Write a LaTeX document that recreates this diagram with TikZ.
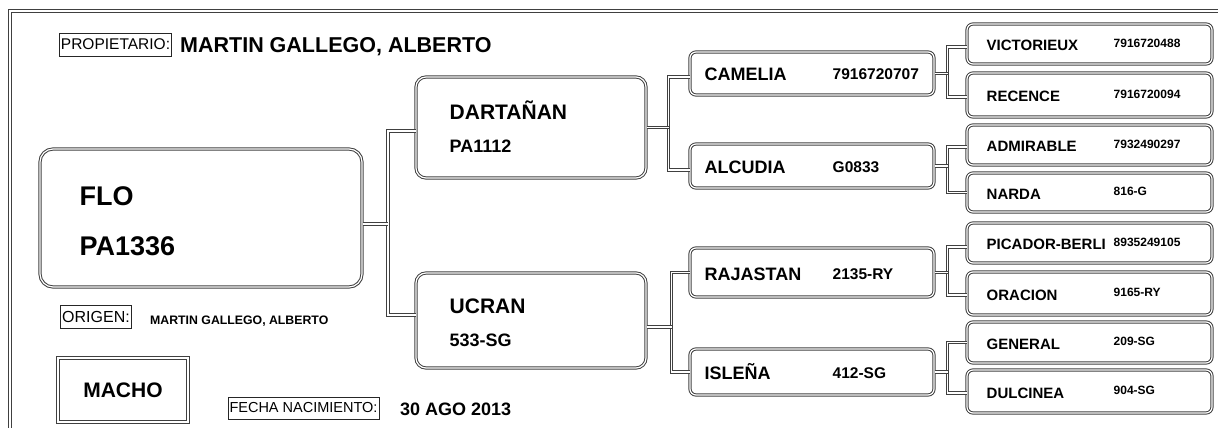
\documentclass[tikz,border=0pt]{standalone}
\usepackage{fontspec}
\setmainfont{Liberation Sans}
\usepackage{tikz}
\usetikzlibrary{positioning}

\newcommand{\fsz}[1]{\fontsize{#1}{#1}\selectfont}

\tikzset{
    frameline/.style={draw=black!75, double=white, double distance=1.2pt, line width=1.1pt},
    link/.style={draw=black!75, double=white, double distance=1.2pt, line width=1pt},
    pbox/.style={draw=black!75, double=white, double distance=1.2pt, line width=1pt, inner sep=0pt},
    mainbox/.style={pbox, rounded corners=13pt},
    sirebox/.style={pbox, rounded corners=10pt, minimum width=230pt},
    gsbox/.style={pbox, rounded corners=6pt, minimum width=244pt},
    leafbox/.style={pbox, rounded corners=6pt, minimum width=245pt},
    tagbox/.style={draw=black!85, line width=0.8pt, inner sep=1.5pt, font=\fsz{15.5}},
    txt/.style={inner sep=0pt, anchor=base west},
}

\begin{document}
\begin{tikzpicture}[x=1pt, y=-1pt]
    \useasboundingbox (0,0) rectangle (1218,428);

    % outer frame (left and top edges only)
    \draw[frameline] (10,430) -- (10,11) -- (1220,11);

    % owner line
    \node[tagbox, minimum height=23pt] (proplbl) at (115.5,44.5) {PROPIETARIO:};
    \node[txt, font=\fsz{21.5}\bfseries] (owner) at (180,53) {MARTIN GALLEGO, ALBERTO};

    % the animal itself
    \node[mainbox, minimum width=322pt, minimum height=138pt] (flo) at (201,218) {};
    \node[txt, font=\fsz{27}\bfseries] (flo-n) at ([xshift=40pt,yshift=13pt]flo.west) {FLO};
    \node[txt, font=\fsz{27}\bfseries] (flo-r) at ([xshift=40pt,yshift=-37pt]flo.west) {PA1336};

    % origin, sex and birth date
    \node[tagbox, font=\fsz{16}, minimum height=23pt] (origlbl) at (96,316.5) {ORIGEN:};
    \node[txt, font=\fsz{12.3}\bfseries] (orig) at (150,324) {MARTIN GALLEGO, ALBERTO};
    \node[pbox, minimum width=130pt, minimum height=64pt, font=\fsz{21}\bfseries] (sex) at (123,390) {MACHO};
    \node[tagbox, font=\fsz{14.5}, minimum height=22pt] (datelbl) at (303.5,408) {FECHA NACIMIENTO:};
    \node[txt, font=\fsz{18}\bfseries] (date) at (400,415) {30 AGO 2013};

    % parents
    \node[sirebox, minimum height=101pt] (dart) at (531,127.5) {};
    \node[txt, font=\fsz{21}\bfseries] (dart-n) at ([xshift=34pt,yshift=8pt]dart.west) {DARTAÑAN};
    \node[txt, font=\fsz{18}\bfseries] (dart-r) at ([xshift=34pt,yshift=-25pt]dart.west) {PA1112};

    \node[sirebox, minimum height=95pt] (ucran) at (531,320.5) {};
    \node[txt, font=\fsz{21}\bfseries] (ucran-n) at ([xshift=34pt,yshift=7.5pt]ucran.west) {UCRAN};
    \node[txt, font=\fsz{18}\bfseries] (ucran-r) at ([xshift=34pt,yshift=-25.5pt]ucran.west) {533-SG};

    % grandparents
    \foreach \id/\name/\num/\yc/\h in {cam/CAMELIA/7916720707/73.5/43, alc/ALCUDIA/G0833/166/44,
                                       raj/RAJASTAN/2135-RY/272.5/49, isl/ISLEÑA/412-SG/372/46} {
        \node[gsbox, minimum height=\h pt] (\id) at (812,\yc) {};
        \node[txt, font=\fsz{18}\bfseries] (\id-n) at ([xshift=15pt,yshift=-7.5pt]\id.west) {\name};
        \node[txt, font=\fsz{15.5}\bfseries] (\id-r) at ([xshift=143pt,yshift=-6.5pt]\id.west) {\num};
    }

    % great-grandparents
    \foreach \id/\name/\num/\yc/\h in {vic/VICTORIEUX/7916720488/44/40, rec/RECENCE/7916720094/95/44,
                                       adm/ADMIRABLE/7932490297/145/40, nar/NARDA/816-G/192.5/39,
                                       pic/PICADOR-BERLI/8935249105/243/40, ora/ORACION/9165-RY/293.5/43,
                                       gen/GENERAL/209-SG/342.5/41, dul/DULCINEA/904-SG/391.5/43} {
        \node[leafbox, minimum height=\h pt] (\id) at (1089.5,\yc) {};
        \node[txt, font=\fsz{15}\bfseries] (\id-n) at ([xshift=20pt,yshift=-6.5pt]\id.west) {\name};
        \node[txt, font=\fsz{12}\bfseries] (\id-r) at ([xshift=147pt,yshift=-3.3pt]\id.west) {\num};
    }

    % junctions
    \coordinate (j0) at (388,224);
    \coordinate (j1) at ([xshift=22pt]dart.east);
    \coordinate (j2) at ([xshift=25pt,yshift=-6.5pt]ucran.east);
    \coordinate (j3) at ([xshift=13pt]cam.east);
    \coordinate (j4) at ([xshift=13pt]alc.east);
    \coordinate (j5) at ([xshift=13pt]raj.east);
    \coordinate (j6) at ([xshift=13pt]isl.east);

    % connectors
    \draw[link] ([yshift=-3.5pt]dart.west) -| (j0) |- ([yshift=5.5pt]ucran.west);
    \draw[link] ([yshift=-6pt]flo.east) -- (j0);

    \draw[link] ([yshift=-3.5pt]cam.west) -| (j1) |- ([yshift=-4pt]alc.west);
    \draw[link] (dart.east) -- (j1);
    \draw[link] (raj.west) -| (j2) |- (isl.west);
    \draw[link] ([yshift=-6.5pt]ucran.east) -- (j2);

    \draw[link] ([yshift=-3pt]vic.west) -| (j3) |- ([yshift=-2pt]rec.west);
    \draw[link] (cam.east) -- (j3);
    \draw[link] ([yshift=-2pt]adm.west) -| (j4) |- (nar.west);
    \draw[link] (alc.east) -- (j4);
    \draw[link] ([yshift=-4pt]pic.west) -| (j5) |- ([yshift=-1.5pt]ora.west);
    \draw[link] (raj.east) -- (j5);
    \draw[link] (gen.west) -| (j6) |- ([yshift=-1.5pt]dul.west);
    \draw[link] (isl.east) -- (j6);
\end{tikzpicture}
\end{document}
